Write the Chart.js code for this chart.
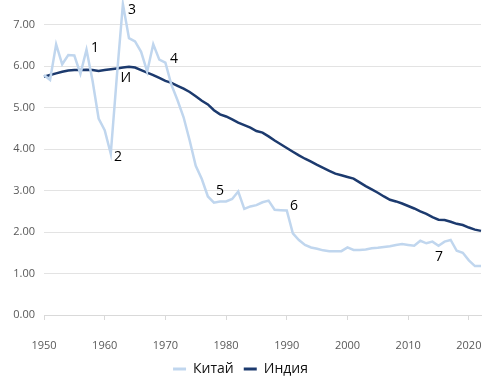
<!DOCTYPE html>
<html>
<head>
<meta charset="utf-8">
<script src="https://cdn.jsdelivr.net/npm/chart.js@4/dist/chart.umd.min.js"></script>
<style>
html,body{margin:0;padding:0;background:#fff;}
#wrap{width:487px;height:378px;position:relative;}
</style>
</head>
<body>
<div id="wrap"><canvas id="c" width="487" height="378"></canvas></div>
<script>
const years = [1950,1951,1952,1953,1954,1955,1956,1957,1958,1959,
1960,1961,1962,1963,1964,1965,1966,1967,1968,1969,
1970,1971,1972,1973,1974,1975,1976,1977,1978,1979,
1980,1981,1982,1983,1984,1985,1986,1987,1988,1989,
1990,1991,1992,1993,1994,1995,1996,1997,1998,1999,
2000,2001,2002,2003,2004,2005,2006,2007,2008,2009,
2010,2011,2012,2013,2014,2015,2016,2017,2018,2019,
2020,2021,2022];

const china = [5.79,5.67,6.53,6.05,6.27,6.26,5.82,6.40,5.65,4.74,
4.46,3.89,5.75,7.50,6.68,6.60,6.35,5.87,6.53,6.16,
6.09,5.55,5.18,4.77,4.21,3.60,3.28,2.86,2.71,2.74,
2.74,2.80,2.98,2.56,2.62,2.65,2.72,2.76,2.54,2.53,
2.52,1.97,1.81,1.69,1.63,1.60,1.56,1.54,1.54,1.54,
1.63,1.57,1.57,1.58,1.61,1.62,1.64,1.66,1.69,1.71,
1.69,1.67,1.79,1.73,1.77,1.67,1.77,1.81,1.55,1.50,
1.32,1.18,1.18];

const india = [5.75,5.79,5.83,5.87,5.90,5.91,5.91,5.92,5.91,5.89,
5.91,5.93,5.95,5.97,5.99,5.97,5.91,5.85,5.79,5.72,
5.65,5.60,5.53,5.46,5.38,5.28,5.17,5.08,4.94,4.84,
4.79,4.72,4.64,4.58,4.52,4.44,4.40,4.31,4.21,4.12,
4.03,3.94,3.85,3.77,3.70,3.62,3.55,3.48,3.41,3.37,
3.33,3.29,3.20,3.11,3.03,2.95,2.86,2.78,2.74,2.69,
2.63,2.57,2.50,2.44,2.36,2.30,2.29,2.25,2.20,2.17,
2.11,2.06,2.03];

const seriesNames = ['Китай','Индия'];
const yTicks = [0,1,2,3,4,5,6,7];
const xTicks = [1950,1960,1970,1980,1990,2000,2010,2020];

const noteText  = ['1','2','3','И','4','5','6','7'];
const noteYear  = [1958.4,1962.2,1964.5,1963.5,1971.4,1979.0,1991.2,2015.1];
const noteValue = [6.44,3.80,7.36,5.71,6.17,3.00,2.64,1.40];

const notesPlugin = {
  id:'notes',
  afterDatasetsDraw(chart){
    const ctx = chart.ctx, xs = chart.scales.x, ys = chart.scales.y;
    ctx.save();
    ctx.fillStyle = '#000';
    ctx.font = '14px "Open Sans", sans-serif';
    ctx.textAlign = 'center';
    ctx.textBaseline = 'middle';
    noteText.forEach((t,i)=>{
      ctx.fillText(t, xs.getPixelForValue(noteYear[i]), ys.getPixelForValue(noteValue[i]));
    });
    ctx.restore();
  }
};

new Chart(document.getElementById('c'), {
  type:'line',
  data:{
    datasets:[
      {label:seriesNames[0], data:years.map((y,i)=>({x:y,y:china[i]})),
       borderColor:'#c0d6ee', backgroundColor:'#c0d6ee', borderWidth:2.5, pointRadius:0, tension:0, clip:false},
      {label:seriesNames[1], data:years.map((y,i)=>({x:y,y:india[i]})),
       borderColor:'#1c3a6e', backgroundColor:'#1c3a6e', borderWidth:2.5, pointRadius:0, tension:0, clip:false}
    ]
  },
  options:{
    responsive:false,
    animation:false,
    layout:{padding:{top:0,right:6,left:0,bottom:-8}},
    scales:{
      x:{
        type:'linear', min:1950, max:2022,
        afterBuildTicks(s){ s.ticks = xTicks.map(v=>({value:v})); },
        afterFit(s){ s.height = 37; s.paddingLeft = 0; s.paddingRight = 0; },
        ticks:{color:'#595959', font:{family:'"Open Sans", sans-serif', size:11}, padding:19, maxRotation:0,
               callback:v=>String(v)},
        grid:{drawOnChartArea:false, drawTicks:true, tickLength:5, color:'#d9d9d9'},
        border:{color:'#d9d9d9'}
      },
      y:{
        min:0, max:7.6,
        afterBuildTicks(s){ s.ticks = yTicks.map(v=>({value:v})); },
        afterFit(s){ s.width = 44; s.paddingTop = 0; s.paddingBottom = 0; },
        ticks:{color:'#595959', font:{family:'"Open Sans", sans-serif', size:11}, padding:9,
               callback:v=>v.toFixed(2)},
        grid:{color:'#e3e3e3', drawTicks:false},
        border:{display:false}
      }
    },
    plugins:{
      legend:{
        position:'bottom',
        labels:{color:'#111', font:{family:'"Open Sans", sans-serif', size:14, lineHeight:1}, boxWidth:13, boxHeight:3, padding:10,
          generateLabels(chart){
            return chart.data.datasets.map((d,i)=>({text:d.label, fillStyle:d.borderColor, strokeStyle:d.borderColor, lineWidth:0, datasetIndex:i, fontColor:'#111'}));
          }}
      },
      tooltip:{enabled:false}
    }
  },
  plugins:[notesPlugin]
});
</script>
</body>
</html>
